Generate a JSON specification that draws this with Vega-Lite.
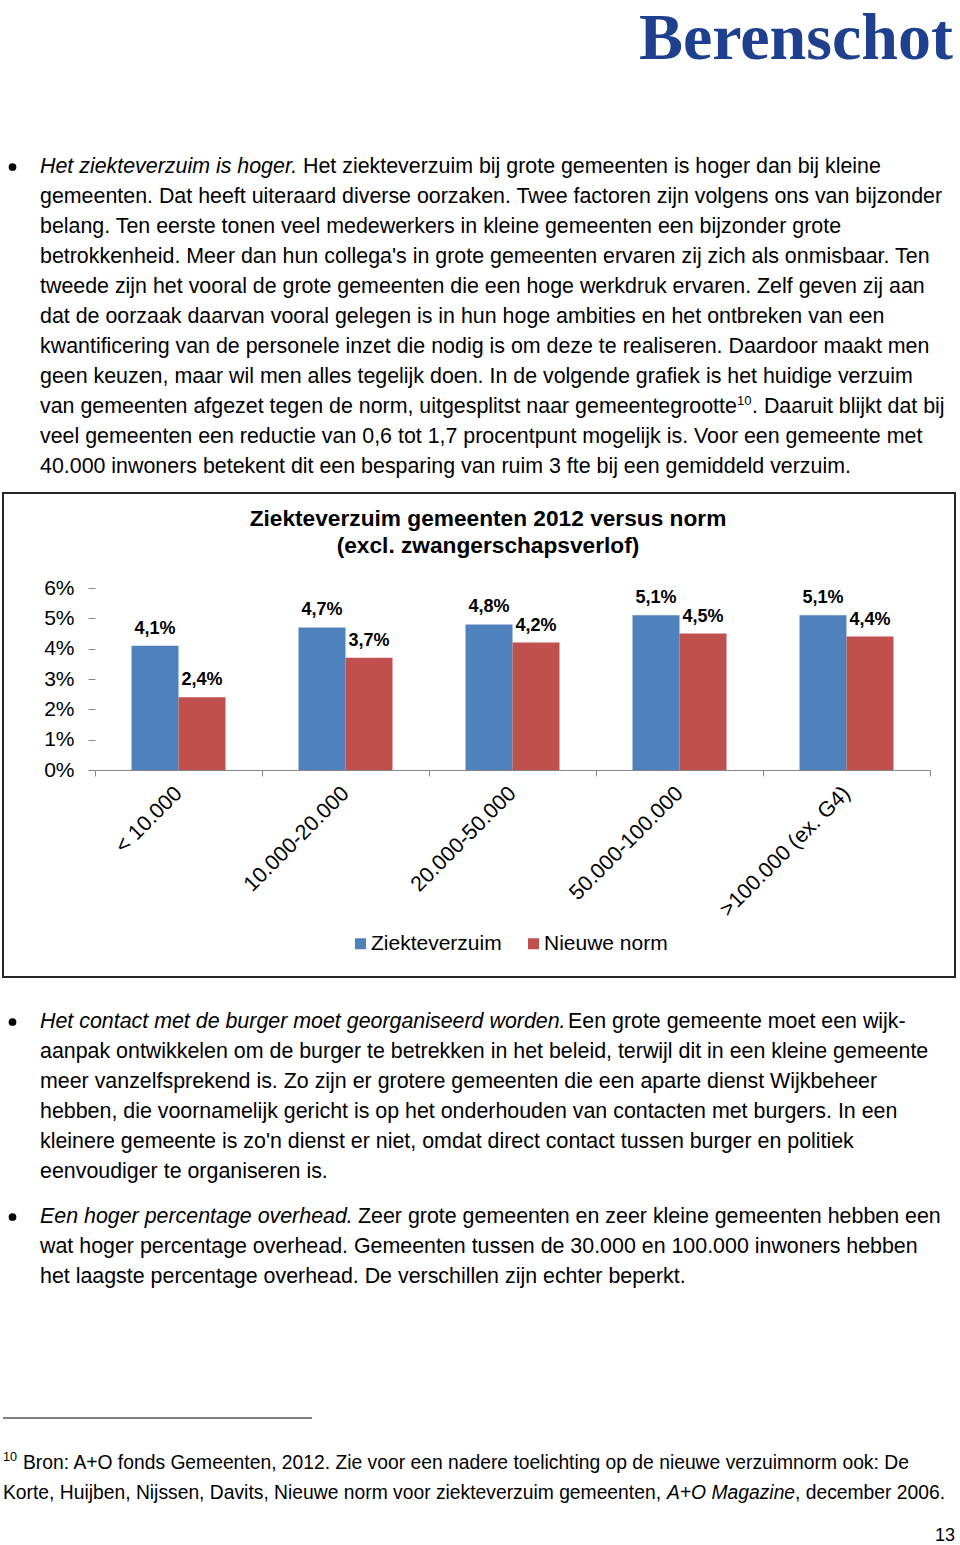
{
  "$schema": "https://vega.github.io/schema/vega-lite/v6.json",
  "width": 952,
  "height": 484,
  "autosize": {"type": "none"},
  "padding": {"left": 3, "top": 493, "right": 5, "bottom": 568},
  "background": "white",
  "config": {
    "font": "Liberation Sans",
    "view": {"stroke": "#262626", "strokeWidth": 2},
    "locale": {"number": {"decimal": ",", "thousands": ".", "grouping": [3], "currency": ["€", ""]}}
  },
  "datasets": {
    "bars": [
      {"group": "< 10.000", "series": "Ziekteverzuim", "value": 0.041},
      {"group": "< 10.000", "series": "Nieuwe norm", "value": 0.024},
      {"group": "10.000-20.000", "series": "Ziekteverzuim", "value": 0.047},
      {"group": "10.000-20.000", "series": "Nieuwe norm", "value": 0.037},
      {"group": "20.000-50.000", "series": "Ziekteverzuim", "value": 0.048},
      {"group": "20.000-50.000", "series": "Nieuwe norm", "value": 0.042},
      {"group": "50.000-100.000", "series": "Ziekteverzuim", "value": 0.051},
      {"group": "50.000-100.000", "series": "Nieuwe norm", "value": 0.045},
      {"group": ">100.000 (ex. G4)", "series": "Ziekteverzuim", "value": 0.051},
      {"group": ">100.000 (ex. G4)", "series": "Nieuwe norm", "value": 0.044}
    ],
    "page": [
      {"block": "logo", "line": 1, "part": "logo", "text": "Berenschot"},
      {"block": "title", "line": 1, "part": "t", "text": "Ziekteverzuim gemeenten 2012 versus norm"},
      {"block": "title", "line": 2, "part": "t", "text": "(excl. zwangerschapsverlof)"},
      {"block": "p1", "line": 1, "part": "bullet", "text": "●"},
      {"block": "p1", "line": 1, "part": "lead", "text": "Het ziekteverzuim is hoger."},
      {"block": "p1", "line": 1, "part": "rest", "text": "Het ziekteverzuim bij grote gemeenten is hoger dan bij kleine"},
      {"block": "p1", "line": 2, "part": "body", "text": "gemeenten. Dat heeft uiteraard diverse oorzaken. Twee factoren zijn volgens ons van bijzonder"},
      {"block": "p1", "line": 3, "part": "body", "text": "belang. Ten eerste tonen veel medewerkers in kleine gemeenten een bijzonder grote"},
      {"block": "p1", "line": 4, "part": "body", "text": "betrokkenheid. Meer dan hun collega's in grote gemeenten ervaren zij zich als onmisbaar. Ten"},
      {"block": "p1", "line": 5, "part": "body", "text": "tweede zijn het vooral de grote gemeenten die een hoge werkdruk ervaren. Zelf geven zij aan"},
      {"block": "p1", "line": 6, "part": "body", "text": "dat de oorzaak daarvan vooral gelegen is in hun hoge ambities en het ontbreken van een"},
      {"block": "p1", "line": 7, "part": "body", "text": "kwantificering van de personele inzet die nodig is om deze te realiseren. Daardoor maakt men"},
      {"block": "p1", "line": 8, "part": "body", "text": "geen keuzen, maar wil men alles tegelijk doen. In de volgende grafiek is het huidige verzuim"},
      {"block": "p1", "line": 9, "part": "body", "text": "van gemeenten afgezet tegen de norm, uitgesplitst naar gemeentegrootte"},
      {"block": "p1", "line": 9, "part": "sup", "text": "10"},
      {"block": "p1", "line": 9, "part": "after", "text": ". Daaruit blijkt dat bij"},
      {"block": "p1", "line": 10, "part": "body", "text": "veel gemeenten een reductie van 0,6 tot 1,7 procentpunt mogelijk is. Voor een gemeente met"},
      {"block": "p1", "line": 11, "part": "body", "text": "40.000 inwoners betekent dit een besparing van ruim 3 fte bij een gemiddeld verzuim."},
      {"block": "p2", "line": 1, "part": "bullet", "text": "●"},
      {"block": "p2", "line": 1, "part": "lead", "text": "Het contact met de burger moet georganiseerd worden."},
      {"block": "p2", "line": 1, "part": "rest", "text": "Een grote gemeente moet een wijk-"},
      {"block": "p2", "line": 2, "part": "body", "text": "aanpak ontwikkelen om de burger te betrekken in het beleid, terwijl dit in een kleine gemeente"},
      {"block": "p2", "line": 3, "part": "body", "text": "meer vanzelfsprekend is. Zo zijn er grotere gemeenten die een aparte dienst Wijkbeheer"},
      {"block": "p2", "line": 4, "part": "body", "text": "hebben, die voornamelijk gericht is op het onderhouden van contacten met burgers. In een"},
      {"block": "p2", "line": 5, "part": "body", "text": "kleinere gemeente is zo'n dienst er niet, omdat direct contact tussen burger en politiek"},
      {"block": "p2", "line": 6, "part": "body", "text": "eenvoudiger te organiseren is."},
      {"block": "p3", "line": 1, "part": "bullet", "text": "●"},
      {"block": "p3", "line": 1, "part": "lead", "text": "Een hoger percentage overhead."},
      {"block": "p3", "line": 1, "part": "rest", "text": "Zeer grote gemeenten en zeer kleine gemeenten hebben een"},
      {"block": "p3", "line": 2, "part": "body", "text": "wat hoger percentage overhead. Gemeenten tussen de 30.000 en 100.000 inwoners hebben"},
      {"block": "p3", "line": 3, "part": "body", "text": "het laagste percentage overhead. De verschillen zijn echter beperkt."},
      {"block": "fn", "line": 1, "part": "sup", "text": "10"},
      {"block": "fn", "line": 1, "part": "first", "text": "Bron: A+O fonds Gemeenten, 2012. Zie voor een nadere toelichting op de nieuwe verzuimnorm ook: De"},
      {"block": "fn", "line": 2, "part": "pre", "text": "Korte, Huijben, Nijssen, Davits, Nieuwe norm voor ziekteverzuim gemeenten,"},
      {"block": "fn", "line": 2, "part": "ital", "text": "A+O Magazine"},
      {"block": "fn", "line": 2, "part": "after", "text": ", december 2006."},
      {"block": "pg", "line": 1, "part": "num", "text": "13"}
    ]
  },
  "layer": [
    {
      "data": {"name": "bars"},
      "layer": [
        {
          "mark": {"type": "bar"},
          "encoding": {
            "x": {
              "field": "group", "type": "nominal",
              "sort": ["< 10.000", "10.000-20.000", "20.000-50.000", "50.000-100.000", ">100.000 (ex. G4)"],
              "scale": {"range": [92, 927], "paddingInner": 0, "paddingOuter": 0},
              "axis": {
                "orient": "bottom", "offset": -207, "title": null,
                "labelAngle": -45, "labelAlign": "right", "labelBaseline": "middle",
                "labelFontSize": 21.5, "labelColor": "#000", "labelPadding": 14, "labelLimit": 400,
                "tickBand": "extent", "tickSize": 6, "tickColor": "#868686",
                "domainColor": "#868686", "grid": false
              }
            },
            "xOffset": {
              "field": "series", "type": "nominal",
              "sort": ["Ziekteverzuim", "Nieuwe norm"],
              "scale": {"paddingInner": 0, "paddingOuter": 0.777}
            },
            "y": {
              "field": "value", "type": "quantitative",
              "scale": {"domain": [0, 0.06], "range": [277, 95], "nice": false},
              "axis": {
                "orient": "left", "offset": -92, "title": null, "domain": false, "grid": false,
                "values": [0, 0.01, 0.02, 0.03, 0.04, 0.05, 0.06], "format": ".0%",
                "tickSize": 7, "tickColor": "#868686", "labelPadding": 14,
                "labelFontSize": 21, "labelColor": "#000"
              }
            },
            "color": {
              "field": "series", "type": "nominal",
              "scale": {"domain": ["Ziekteverzuim", "Nieuwe norm"], "range": ["#4F81BD", "#C0504D"]},
              "legend": {
                "orient": "none", "legendX": 347, "legendY": 440, "direction": "horizontal",
                "title": null, "symbolType": "square", "symbolSize": 121, "symbolStrokeWidth": 0,
                "labelFontSize": 21, "labelColor": "#000", "labelOffset": 0, "columnPadding": 21, "padding": 0
              }
            }
          }
        },
        {
          "mark": {"type": "text", "fontSize": 18, "fontWeight": "bold", "align": "center", "baseline": "alphabetic", "dy": -12, "color": "#000"},
          "encoding": {
            "x": {"field": "group", "type": "nominal", "sort": ["< 10.000", "10.000-20.000", "20.000-50.000", "50.000-100.000", ">100.000 (ex. G4)"]},
            "xOffset": {"field": "series", "type": "nominal", "sort": ["Ziekteverzuim", "Nieuwe norm"]},
            "y": {"field": "value", "type": "quantitative"},
            "text": {"field": "value", "type": "quantitative", "format": ".1%"}
          }
        }
      ]
    },
    {
      "data": {"name": "page"},
      "transform": [{"filter": "datum.block == 'title'"}],
      "mark": {"type": "text", "fontSize": 22.7, "fontWeight": "bold", "align": "center", "baseline": "alphabetic", "color": "#000"},
      "encoding": {
        "x": {"value": 485},
        "y": {"field": "line", "type": "quantitative", "scale": {"domain": [1, 2], "range": [33, 60]}, "axis": null},
        "text": {"field": "text"}
      }
    },
    {
      "data": {"name": "page"},
      "transform": [{"filter": "datum.block == 'logo'"}],
      "mark": {"type": "text", "font": "Liberation Serif", "fontSize": 66, "fontWeight": "bold", "align": "right", "baseline": "alphabetic", "color": "#1F3F8F"},
      "encoding": {
        "x": {"value": 950},
        "y": {"field": "line", "type": "quantitative", "scale": {"domain": [0, 1], "range": [-493, -434]}, "axis": null},
        "text": {"field": "text"}
      }
    },
    {
      "data": {"name": "page"},
      "transform": [{"filter": "datum.block == 'p1'"}],
      "layer": [
        {"transform": [{"filter": "datum.part == 'bullet'"}], "mark": {"type": "point", "shape": "circle", "filled": true, "size": 60, "color": "#000", "opacity": 1, "yOffset": -6},
         "encoding": {"x": {"value": 9.5}, "y": {"field": "line", "type": "quantitative", "scale": {"domain": [1, 11], "range": [-320, -20]}, "axis": null}}},
        {"transform": [{"filter": "datum.part == 'lead'"}], "mark": {"type": "text", "fontSize": 21.4, "fontStyle": "italic", "align": "left", "baseline": "alphabetic", "color": "#000"},
         "encoding": {"x": {"value": 37}, "y": {"field": "line", "type": "quantitative", "scale": {"domain": [1, 11], "range": [-320, -20]}, "axis": null}, "text": {"field": "text"}}},
        {"transform": [{"filter": "datum.part == 'rest'"}], "mark": {"type": "text", "fontSize": 21.4, "align": "left", "baseline": "alphabetic", "color": "#000"},
         "encoding": {"x": {"value": 300}, "y": {"field": "line", "type": "quantitative", "scale": {"domain": [1, 11], "range": [-320, -20]}, "axis": null}, "text": {"field": "text"}}},
        {"transform": [{"filter": "datum.part == 'body'"}], "mark": {"type": "text", "fontSize": 21.4, "align": "left", "baseline": "alphabetic", "color": "#000"},
         "encoding": {"x": {"value": 37}, "y": {"field": "line", "type": "quantitative", "scale": {"domain": [1, 11], "range": [-320, -20]}, "axis": null}, "text": {"field": "text"}}},
        {"transform": [{"filter": "datum.part == 'sup'"}], "mark": {"type": "text", "fontSize": 13, "align": "left", "baseline": "alphabetic", "dy": -8, "color": "#000"},
         "encoding": {"x": {"value": 734}, "y": {"field": "line", "type": "quantitative", "scale": {"domain": [1, 11], "range": [-320, -20]}, "axis": null}, "text": {"field": "text"}}},
        {"transform": [{"filter": "datum.part == 'after'"}], "mark": {"type": "text", "fontSize": 21.4, "align": "left", "baseline": "alphabetic", "color": "#000"},
         "encoding": {"x": {"value": 749}, "y": {"field": "line", "type": "quantitative", "scale": {"domain": [1, 11], "range": [-320, -20]}, "axis": null}, "text": {"field": "text"}}}
      ]
    },
    {
      "data": {"name": "page"},
      "transform": [{"filter": "datum.block == 'p2'"}],
      "layer": [
        {"transform": [{"filter": "datum.part == 'bullet'"}], "mark": {"type": "point", "shape": "circle", "filled": true, "size": 60, "color": "#000", "opacity": 1, "yOffset": -6},
         "encoding": {"x": {"value": 9.5}, "y": {"field": "line", "type": "quantitative", "scale": {"domain": [1, 6], "range": [535, 685]}, "axis": null}}},
        {"transform": [{"filter": "datum.part == 'lead'"}], "mark": {"type": "text", "fontSize": 21.4, "fontStyle": "italic", "align": "left", "baseline": "alphabetic", "color": "#000"},
         "encoding": {"x": {"value": 37}, "y": {"field": "line", "type": "quantitative", "scale": {"domain": [1, 6], "range": [535, 685]}, "axis": null}, "text": {"field": "text"}}},
        {"transform": [{"filter": "datum.part == 'rest'"}], "mark": {"type": "text", "fontSize": 21.4, "align": "left", "baseline": "alphabetic", "color": "#000"},
         "encoding": {"x": {"value": 565}, "y": {"field": "line", "type": "quantitative", "scale": {"domain": [1, 6], "range": [535, 685]}, "axis": null}, "text": {"field": "text"}}},
        {"transform": [{"filter": "datum.part == 'body'"}], "mark": {"type": "text", "fontSize": 21.4, "align": "left", "baseline": "alphabetic", "color": "#000"},
         "encoding": {"x": {"value": 37}, "y": {"field": "line", "type": "quantitative", "scale": {"domain": [1, 6], "range": [535, 685]}, "axis": null}, "text": {"field": "text"}}}
      ]
    },
    {
      "data": {"name": "page"},
      "transform": [{"filter": "datum.block == 'p3'"}],
      "layer": [
        {"transform": [{"filter": "datum.part == 'bullet'"}], "mark": {"type": "point", "shape": "circle", "filled": true, "size": 60, "color": "#000", "opacity": 1, "yOffset": -6},
         "encoding": {"x": {"value": 9.5}, "y": {"field": "line", "type": "quantitative", "scale": {"domain": [1, 3], "range": [730, 790]}, "axis": null}}},
        {"transform": [{"filter": "datum.part == 'lead'"}], "mark": {"type": "text", "fontSize": 21.4, "fontStyle": "italic", "align": "left", "baseline": "alphabetic", "color": "#000"},
         "encoding": {"x": {"value": 37}, "y": {"field": "line", "type": "quantitative", "scale": {"domain": [1, 3], "range": [730, 790]}, "axis": null}, "text": {"field": "text"}}},
        {"transform": [{"filter": "datum.part == 'rest'"}], "mark": {"type": "text", "fontSize": 21.4, "align": "left", "baseline": "alphabetic", "color": "#000"},
         "encoding": {"x": {"value": 355}, "y": {"field": "line", "type": "quantitative", "scale": {"domain": [1, 3], "range": [730, 790]}, "axis": null}, "text": {"field": "text"}}},
        {"transform": [{"filter": "datum.part == 'body'"}], "mark": {"type": "text", "fontSize": 21.4, "align": "left", "baseline": "alphabetic", "color": "#000"},
         "encoding": {"x": {"value": 37}, "y": {"field": "line", "type": "quantitative", "scale": {"domain": [1, 3], "range": [730, 790]}, "axis": null}, "text": {"field": "text"}}}
      ]
    },
    {
      "data": {"name": "page"},
      "transform": [{"filter": "datum.block == 'fn'"}],
      "layer": [
        {"transform": [{"filter": "datum.part == 'sup'"}], "mark": {"type": "text", "fontSize": 12.6, "align": "left", "baseline": "alphabetic", "dy": -8, "color": "#000"},
         "encoding": {"x": {"value": 0}, "y": {"field": "line", "type": "quantitative", "scale": {"domain": [1, 2], "range": [976, 1006]}, "axis": null}, "text": {"field": "text"}}},
        {"transform": [{"filter": "datum.part == 'first'"}], "mark": {"type": "text", "fontSize": 19.3, "align": "left", "baseline": "alphabetic", "color": "#000"},
         "encoding": {"x": {"value": 20}, "y": {"field": "line", "type": "quantitative", "scale": {"domain": [1, 2], "range": [976, 1006]}, "axis": null}, "text": {"field": "text"}}},
        {"transform": [{"filter": "datum.part == 'pre'"}], "mark": {"type": "text", "fontSize": 19.3, "align": "left", "baseline": "alphabetic", "color": "#000"},
         "encoding": {"x": {"value": 0}, "y": {"field": "line", "type": "quantitative", "scale": {"domain": [1, 2], "range": [976, 1006]}, "axis": null}, "text": {"field": "text"}}},
        {"transform": [{"filter": "datum.part == 'ital'"}], "mark": {"type": "text", "fontSize": 19.3, "fontStyle": "italic", "align": "left", "baseline": "alphabetic", "color": "#000"},
         "encoding": {"x": {"value": 664}, "y": {"field": "line", "type": "quantitative", "scale": {"domain": [1, 2], "range": [976, 1006]}, "axis": null}, "text": {"field": "text"}}},
        {"transform": [{"filter": "datum.part == 'after'"}], "mark": {"type": "text", "fontSize": 19.3, "align": "left", "baseline": "alphabetic", "color": "#000"},
         "encoding": {"x": {"value": 792}, "y": {"field": "line", "type": "quantitative", "scale": {"domain": [1, 2], "range": [976, 1006]}, "axis": null}, "text": {"field": "text"}}}
      ]
    },
    {
      "data": {"name": "page"},
      "transform": [{"filter": "datum.block == 'pg'"}],
      "mark": {"type": "text", "fontSize": 18, "align": "right", "baseline": "alphabetic", "color": "#000"},
      "encoding": {
        "x": {"value": 952},
        "y": {"field": "line", "type": "quantitative", "scale": {"domain": [0, 1], "range": [1000, 1048]}, "axis": null},
        "text": {"field": "text"}
      }
    },
    {
      "data": {"values": [{"rule": "footnote separator"}]},
      "mark": {"type": "rule", "color": "#000", "strokeWidth": 1},
      "encoding": {"x": {"value": 0}, "x2": {"value": 309}, "y": {"value": 925}}
    }
  ],
  "resolve": {"scale": {"y": "independent"}}
}
